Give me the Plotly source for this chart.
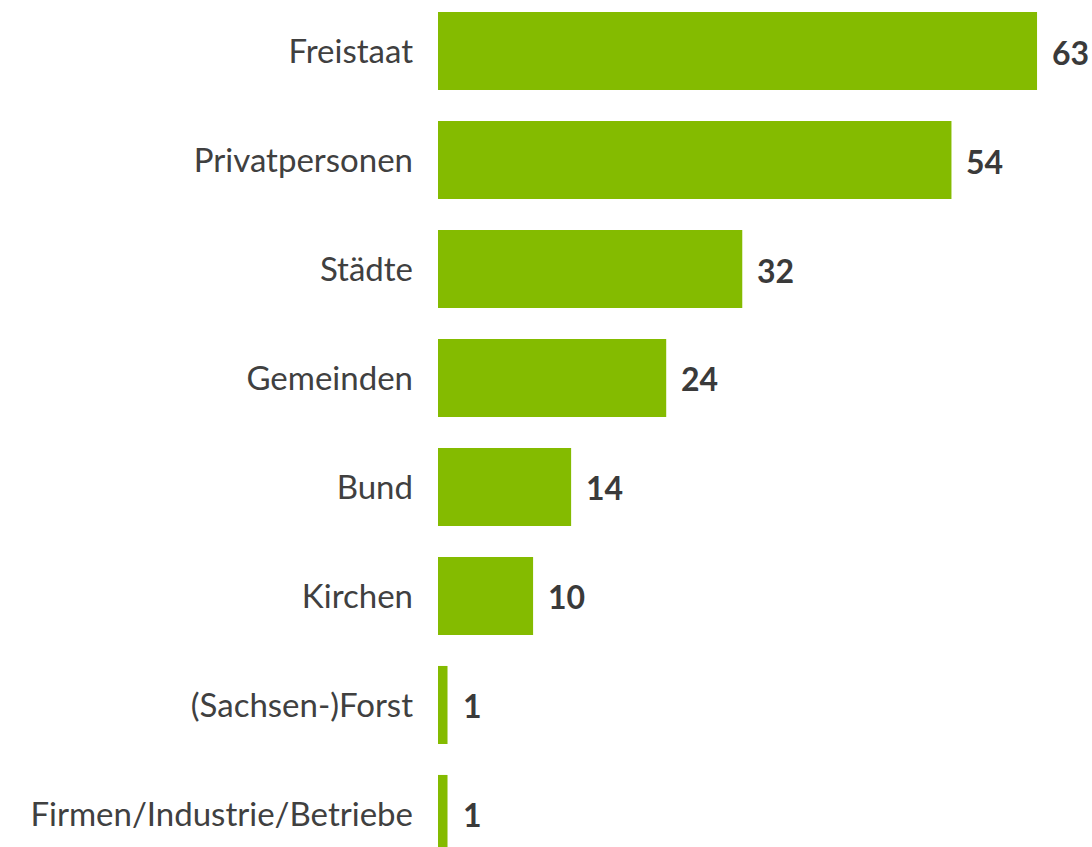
import plotly.graph_objects as go

categories = ["Freistaat", "Privatpersonen", "Städte", "Gemeinden", "Bund",
              "Kirchen", "(Sachsen-)Forst", "Firmen/Industrie/Betriebe"]
values = [63, 54, 32, 24, 14, 10, 1, 1]

BAR_COLOR = "#84BB00"
LABEL_COLOR = "#404040"
VALUE_COLOR = "#3A3A3A"
FONT = "Lato, Carlito, Calibri, sans-serif"

fig = go.Figure(go.Bar(
    x=values, y=categories, orientation="h",
    marker=dict(color=BAR_COLOR, line=dict(width=0)),
    hoverinfo="skip",
))

for c, v in zip(categories, values):
    fig.add_annotation(x=v, y=c, text=f"<b>{v}</b>", showarrow=False,
                       xanchor="left", yanchor="middle", xshift=13, yshift=-1,
                       font=dict(family=FONT, size=32, color=VALUE_COLOR))

fig.update_layout(
    width=1092, height=847,
    margin=dict(l=438, r=0, t=0, b=0),
    paper_bgcolor="white", plot_bgcolor="white",
    bargap=0.284,
    showlegend=False,
    font=dict(family=FONT, size=33, color=LABEL_COLOR),
    xaxis=dict(range=[0, 68.78], visible=False, showgrid=False, zeroline=False),
    yaxis=dict(range=[7.303, -0.468], showgrid=False, zeroline=False,
               showline=False, ticks="", ticklabelstandoff=24,
               tickfont=dict(family=FONT, size=33, color=LABEL_COLOR)),
)

fig.write_html(
    "out.html",
    config={"displayModeBar": False},
    post_script=("document.body.style.margin='0';"
                 "document.documentElement.style.overflow='hidden';"),
)
